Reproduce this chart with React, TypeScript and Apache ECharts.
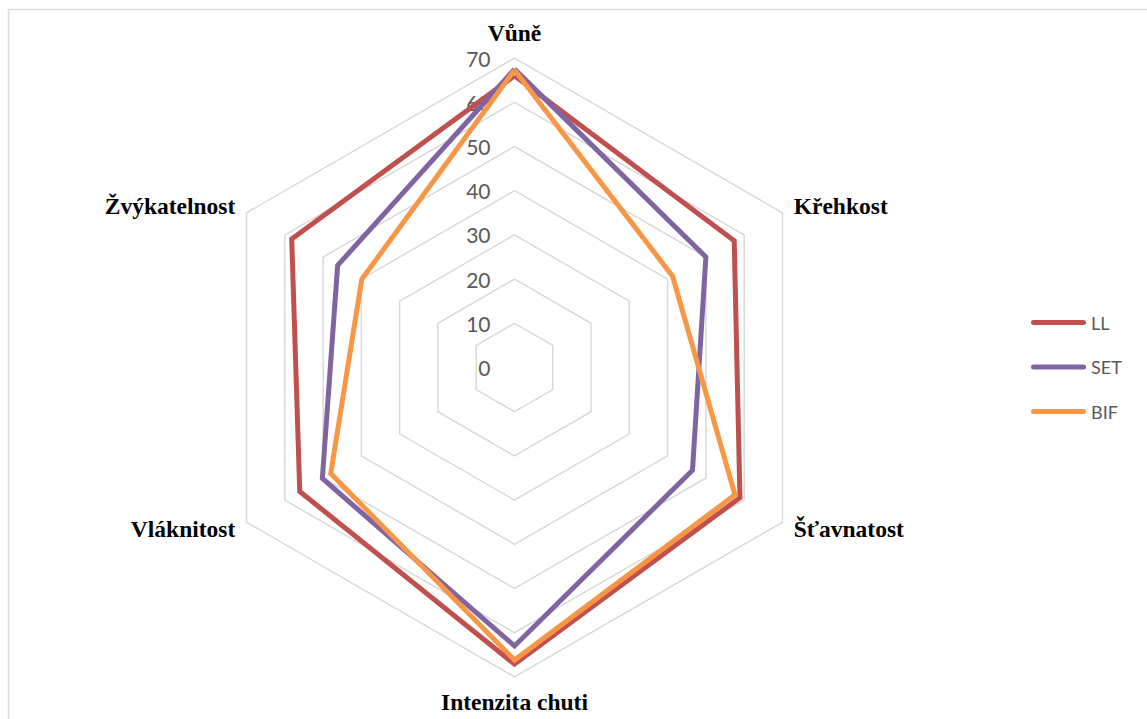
import React, { useEffect, useRef } from "react";
import * as echarts from "echarts";

// Sensory profile categories, listed clockwise from the top
const categories = ["Vůně", "Křehkost", "Šťavnatost", "Intenzita chuti", "Vláknitost", "Žvýkatelnost"];

const seriesNames = ["LL", "SET", "BIF"];
const seriesColors = ["#C0504D", "#8064A2", "#F79646"];

// Scores per category (same order as categories)
const llValues = [66, 57.4, 58.9, 67.1, 56.1, 58.2];
const setValues = [67.5, 50.0, 46.5, 63.0, 50.2, 46.2];
const bifValues = [67.3, 41.3, 57.6, 66.2, 48.0, 39.9];

const scaleMin = 0;
const scaleMax = 70;
const scaleSplits = 7;

export default function App() {
  const ref = useRef<HTMLDivElement>(null);

  useEffect(() => {
    if (!ref.current) return;
    const chart = echarts.init(ref.current, null, { renderer: "svg" });

    // ECharts lays radar indicators out counter-clockwise; reorder so they read clockwise
    const order = [0, 5, 4, 3, 2, 1];
    const reorder = (arr: number[]) => order.map((i) => arr[i]);
    const allValues = [llValues, setValues, bifValues];

    chart.setOption({
      animation: false,
      backgroundColor: "#ffffff",
      graphic: [
        {
          type: "rect",
          z: -1,
          shape: { x: 8.5, y: 9.5, width: 1300, height: 900 },
          style: { fill: "none", stroke: "#d9d9d9", lineWidth: 1.5 },
        },
      ],
      legend: {
        orient: "vertical",
        left: 1026,
        top: 307.5,
        itemWidth: 55,
        itemHeight: 5,
        itemGap: 24.5,
        icon: "path://M2.5 0H52.5A2.5 2.5 0 0 1 52.5 5H2.5A2.5 2.5 0 0 1 2.5 0Z",
        textStyle: { color: "#595959", fontSize: 18, fontFamily: "Lato, sans-serif", lineHeight: 20 },
        data: seriesNames,
      },
      radar: {
        center: [514.5, 367.5],
        radius: 309.4,
        startAngle: 90,
        splitNumber: scaleSplits,
        shape: "polygon",
        nameGap: 13,
        axisName: {
          color: "#000000",
          fontFamily: '"Liberation Serif", "Times New Roman", serif',
          fontWeight: "bold",
          fontSize: 23.5,
        },
        axisLine: { show: false },
        axisTick: { show: false },
        axisLabel: { show: false },
        splitLine: { lineStyle: { color: "#d9d9d9", width: 1.5 } },
        splitArea: { show: false },
        indicator: order.map((i, k) => ({
          name: categories[i],
          min: scaleMin,
          max: scaleMax,
          ...(k === 0
            ? {
                axisLabel: {
                  show: true,
                  color: "#595959",
                  fontSize: 21,
                  fontFamily: "Lato, sans-serif",
                  margin: 24,
                },
              }
            : {}),
        })),
      },
      series: seriesNames.map((name, s) => ({
        type: "radar",
        name,
        symbol: "none",
        color: seriesColors[s],
        lineStyle: { color: seriesColors[s], width: 5, join: "miter" },
        emphasis: { disabled: true },
        data: [{ name, value: reorder(allValues[s]) }],
      })),
    });

    return () => chart.dispose();
  }, []);

  return (
    <div
      ref={ref}
      style={{ position: "fixed", left: 0, top: 0, width: 1147, height: 719, background: "#fff" }}
    />
  );
}
